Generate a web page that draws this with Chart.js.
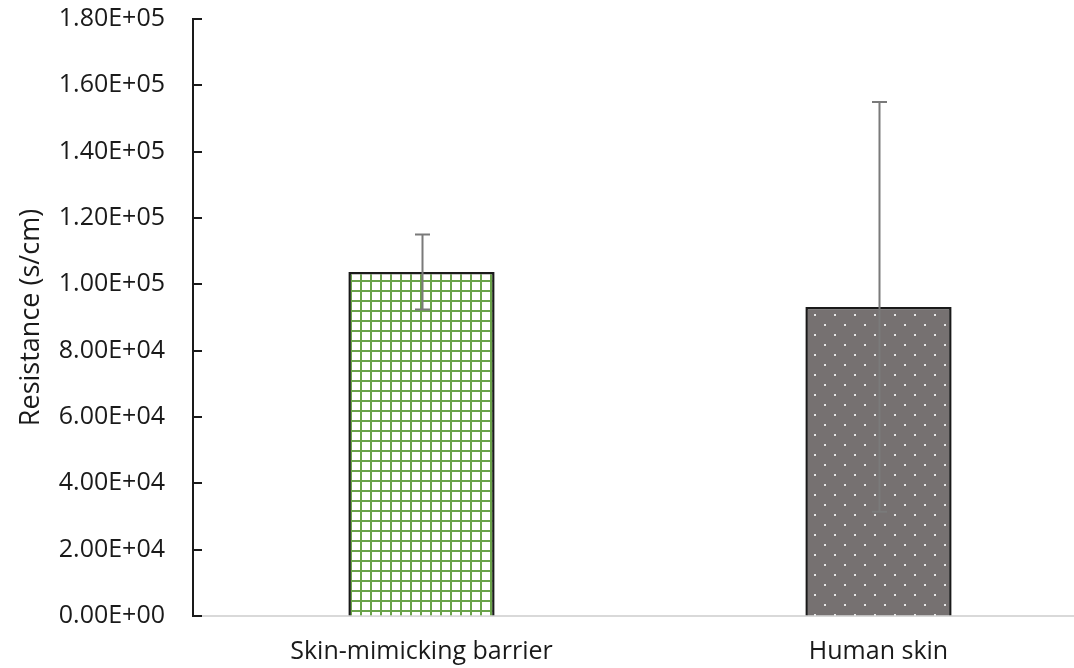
<!DOCTYPE html>
<html>
<head>
<meta charset="utf-8">
<script src="https://cdn.jsdelivr.net/npm/chart.js@4/dist/chart.umd.min.js"></script>
<style>
  html, body { margin: 0; padding: 0; background: #fff; overflow: hidden; }
  #wrap { width: 1074px; height: 668px; overflow: hidden; }
  #box { width: 1110px; height: 668px; }
</style>
</head>
<body>
<div id="wrap"><div id="box"><canvas id="chart"></canvas></div></div>
<script>
const categories = ["Skin-mimicking barrier", "Human skin"];
const resistance = [103700, 93200];
const resistanceErr = [11300, 61800];
const yTicks = [0, 20000, 40000, 60000, 80000, 100000, 120000, 140000, 160000, 180000];

// "1.80E+05" style labels
function sci(v) {
  const [m, e] = v.toExponential(2).toUpperCase().split("E");
  const sign = e[0] === "-" ? "-" : "+";
  const digits = e.replace(/[+-]/, "").padStart(2, "0");
  return m + "E" + sign + digits;
}

function gridPattern() {
  const c = document.createElement("canvas");
  c.width = 10; c.height = 10;
  const g = c.getContext("2d");
  g.fillStyle = "#fff";
  g.fillRect(0, 0, 10, 10);
  g.fillStyle = "#6aa34a";
  g.fillRect(0, 0, 10, 2);
  g.fillRect(0, 0, 2, 10);
  return g.createPattern(c, "repeat");
}

function dotPattern() {
  const c = document.createElement("canvas");
  c.width = 20; c.height = 20;
  const g = c.getContext("2d");
  g.fillStyle = "#767171";
  g.fillRect(0, 0, 20, 20);
  g.fillStyle = "#e8e8e8";
  g.fillRect(4, 4, 2, 2);
  g.fillRect(14, 14, 2, 2);
  return g.createPattern(c, "repeat");
}

// tick marks pointing into the plot area, as in Excel
const innerTicks = {
  id: "innerTicks",
  afterDraw(chart) {
    const ctx = chart.ctx;
    const y = chart.scales.y;
    const x0 = chart.chartArea.left;
    ctx.save();
    ctx.strokeStyle = "#1a1a1a";
    ctx.lineWidth = 2;
    ctx.beginPath();
    y.ticks.forEach(t => {
      const py = Math.round(y.getPixelForValue(t.value));
      ctx.moveTo(x0 - 1, py);
      ctx.lineTo(x0 + 9, py);
    });
    ctx.stroke();
    ctx.restore();
  }
};

const errorBars = {
  id: "errorBars",
  afterDatasetsDraw(chart) {
    const ctx = chart.ctx;
    const y = chart.scales.y;
    const meta = chart.getDatasetMeta(0);
    ctx.save();
    ctx.strokeStyle = "#7a7a7a";
    ctx.lineWidth = 2;
    meta.data.forEach((bar, i) => {
      const x = Math.round(bar.x) + 0.5;
      const top = y.getPixelForValue(resistance[i] + resistanceErr[i]);
      const bot = y.getPixelForValue(resistance[i] - resistanceErr[i]);
      ctx.beginPath();
      ctx.moveTo(x, top); ctx.lineTo(x, bot);
      ctx.moveTo(x - 7.5, top); ctx.lineTo(x + 7.5, top);
      ctx.moveTo(x - 7.5, bot); ctx.lineTo(x + 7.5, bot);
      ctx.stroke();
    });
    ctx.restore();
  }
};

const font = "'Open Sans', 'DejaVu Sans', sans-serif";

new Chart(document.getElementById("chart"), {
  type: "bar",
  data: {
    labels: categories,
    datasets: [{
      data: resistance,
      backgroundColor: [gridPattern(), dotPattern()],
      borderColor: "#1a1a1a",
      borderWidth: 2.5,
      borderSkipped: "bottom",
      barPercentage: 0.64,
      categoryPercentage: 0.5
    }]
  },
  options: {
    responsive: true,
    maintainAspectRatio: false,
    animation: false,
    layout: { padding: { top: 19, right: 3, bottom: 0, left: 14 } },
    plugins: { legend: { display: false }, tooltip: { enabled: false } },
    scales: {
      x: {
        afterFit(scale) { scale.height = 52; },
        grid: { display: false, drawTicks: false },
        border: { color: "#d9d9d9", width: 2 },
        ticks: { color: "#1a1a1a", font: { family: font, size: 25 }, padding: 21, maxRotation: 0, minRotation: 0, autoSkip: false }
      },
      y: {
        min: 0,
        max: 180000,
        afterBuildTicks(scale) { scale.ticks = yTicks.map(v => ({ value: v })); },
        afterFit(scale) { scale.width = 179; scale.paddingTop = 0; scale.paddingBottom = 0; },
        grid: { drawOnChartArea: false, drawTicks: false },
        border: { color: "#1a1a1a", width: 2 },
        ticks: { color: "#1a1a1a", font: { family: font, size: 25 }, padding: 28, callback: v => sci(v) },
        title: { display: true, text: "Resistance (s/cm)", color: "#1a1a1a", font: { family: font, size: 27 }, padding: 1 }
      }
    }
  },
  plugins: [errorBars, innerTicks]
});
</script>
</body>
</html>
